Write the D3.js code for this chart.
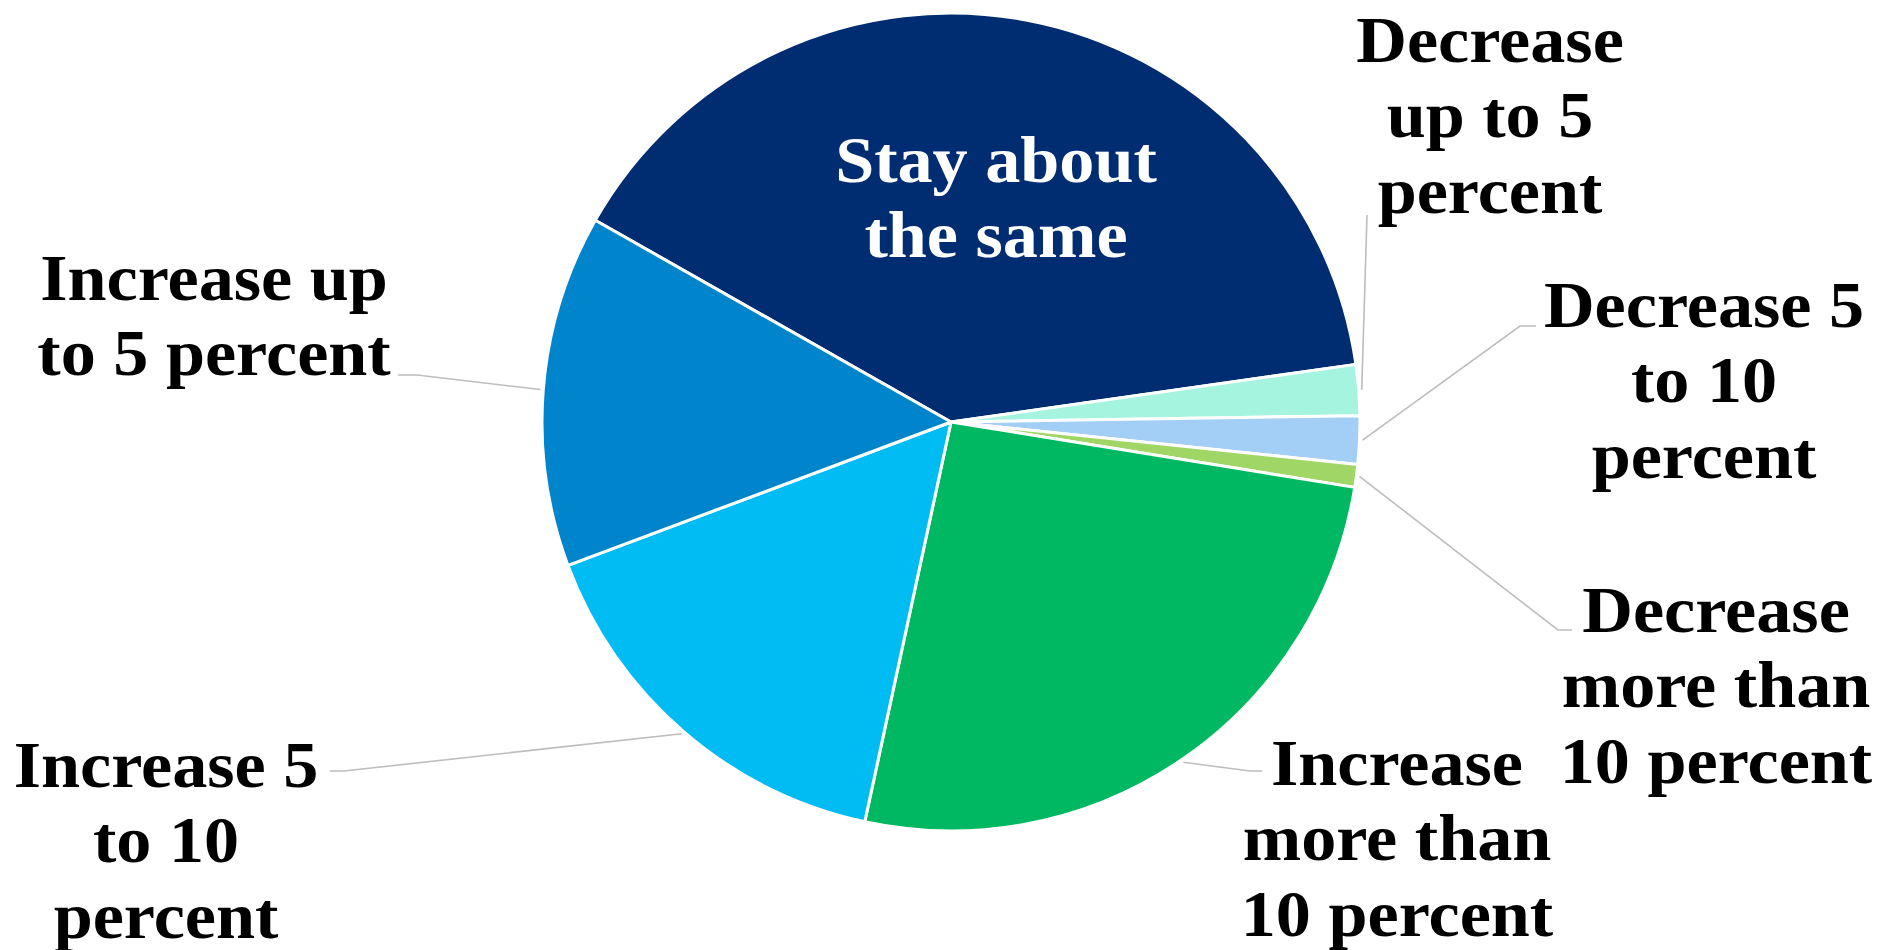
<!DOCTYPE html>
<html>
<head>
<meta charset="utf-8">
<script src="https://cdn.jsdelivr.net/npm/d3@7"></script>
<style>
  html, body { margin: 0; padding: 0; background: #ffffff; }
  svg { display: block; }
  .lbl { font-family: "Liberation Serif", "Times New Roman", serif; font-weight: bold; font-size: 65px; }
</style>
</head>
<body>
<svg id="chart" width="1882" height="950"></svg>
<script>
// Expected change, share of respondents (percent)
const categories = [
  "Stay about the same",
  "Decrease up to 5 percent",
  "Decrease 5 to 10 percent",
  "Decrease more than 10 percent",
  "Increase more than 10 percent",
  "Increase 5 to 10 percent",
  "Increase up to 5 percent"
];
const shares = [39.5, 2.0, 1.9, 0.9, 25.8, 15.9, 13.9];
const colors = ["#002D72", "#A4F4E0", "#A3CFF7", "#A0D665", "#00B862", "#00BCF2", "#0084CB"];

// Wrapped label text for each slice
const labelLines = [
  ["Stay about", "the same"],
  ["Decrease", "up to 5", "percent"],
  ["Decrease 5", "to 10", "percent"],
  ["Decrease", "more than", "10 percent"],
  ["Increase", "more than", "10 percent"],
  ["Increase 5", "to 10", "percent"],
  ["Increase up", "to 5 percent"]
];

// Label placement: centre x, first baseline, leader elbow and end points
const labelLayout = [
  { cx: 996,  y0: 182, leader: null, color: "#ffffff" },
  { cx: 1490, y0: 62,  leader: [[1367, 215]], color: "#000000" },
  { cx: 1704, y0: 327, leader: [[1520, 326], [1536, 326]], color: "#000000" },
  { cx: 1716, y0: 632, leader: [[1558, 630], [1572, 630]], color: "#000000" },
  { cx: 1397, y0: 785, leader: [[1250, 771], [1262, 771]], color: "#000000" },
  { cx: 166,  y0: 787, leader: [[344, 771], [330, 771]], color: "#000000" },
  { cx: 214,  y0: 300, leader: [[417, 375], [398, 375]], color: "#000000" }
];

const cx = 951, cy = 422, radius = 409;
const lineStep = 75.5;
const rotation = -60.44 * Math.PI / 180;

const svg = d3.select("#chart");
const g = svg.append("g").attr("transform", `translate(${cx},${cy})`);

const pie = d3.pie()
  .sort(null)
  .value(d => d)
  .startAngle(rotation)
  .endAngle(rotation + 2 * Math.PI);

const arcs = pie(shares);
const arc = d3.arc().innerRadius(0).outerRadius(radius);

g.selectAll("path.slice")
  .data(arcs)
  .join("path")
  .attr("class", "slice")
  .attr("d", arc)
  .attr("fill", (d, i) => colors[i])
  .attr("stroke", "#ffffff")
  .attr("stroke-width", 3)
  .attr("stroke-linejoin", "round");

// Leader lines from the slice edge to each outside label
const line = d3.line();
arcs.forEach((d, i) => {
  const lay = labelLayout[i];
  if (!lay.leader) return;
  const mid = (d.startAngle + d.endAngle) / 2;
  const r0 = radius + 3;
  const start = [cx + r0 * Math.sin(mid), cy - r0 * Math.cos(mid)];
  svg.append("path")
    .attr("d", line([start, ...lay.leader]))
    .attr("fill", "none")
    .attr("stroke", "#BDBDBD")
    .attr("stroke-width", 1.6);
});

// Labels
labelLines.forEach((lines, i) => {
  const lay = labelLayout[i];
  const lg = svg.append("g")
    .attr("transform", `translate(${lay.cx},0) scale(1.08,1)`);
  lg.selectAll("text")
    .data(lines)
    .join("text")
    .attr("class", "lbl")
    .attr("x", 0)
    .attr("y", (t, k) => lay.y0 + k * lineStep)
    .attr("text-anchor", "middle")
    .attr("fill", lay.color)
    .text(t => t);
});
</script>
</body>
</html>
